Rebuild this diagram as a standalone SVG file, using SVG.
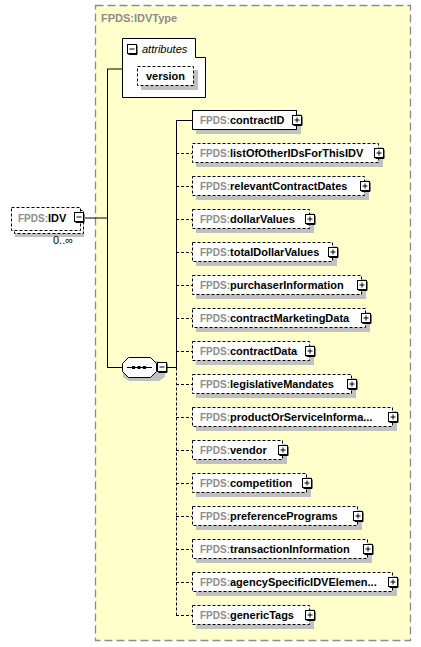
<svg xmlns="http://www.w3.org/2000/svg" width="421" height="647" viewBox="0 0 421 647">
<style>
.bg{fill:#ffffff}
.type{fill:#ffffcc;stroke:#8c8c8c;stroke-width:1.3;stroke-dasharray:8,4}
.tlabel{font-family:"Liberation Sans",Arial,sans-serif;font-size:11px;font-weight:bold;fill:#8c8c8c}
.box{fill:#ffffff;stroke:#000;stroke-width:1}
.dbox{fill:#ffffff;stroke:#000;stroke-width:1;stroke-dasharray:3,2}
.shadow{fill:#c0c0c0}
.t{font-family:"Liberation Sans",Arial,sans-serif;font-size:11px;font-weight:bold;fill:#000}
.pfx{font-size:10px;fill:#8c8c8c}
.nm{font-family:"Liberation Sans",Arial,sans-serif;font-size:11px;font-weight:bold;fill:#000}
.ln{stroke:#000;stroke-width:1;fill:none}
.dln{stroke:#000;stroke-width:1;fill:none;stroke-dasharray:3,2}
.btn{fill:#fff;stroke:#000;stroke-width:1}
.small{font-family:"Liberation Sans",Arial,sans-serif;font-size:11px;fill:#000}
</style>
<defs>
<g id="plus"><rect class="btn" x="0.5" y="0.5" width="9" height="9"/><path class="ln" d="M2.5,5H7.5M5,2.5V7.5"/><path d="M10,1.5V10.5H1.5" stroke="#000" fill="none"/></g>
<g id="minus"><rect class="btn" x="0.5" y="0.5" width="9" height="9"/><path class="ln" d="M2.5,5H7.5"/><path d="M10,1.5V10.5H1.5" stroke="#000" fill="none"/></g>
</defs>
<rect width="421" height="647" class="bg"/>
<g id="IDVType">
<rect class="type" x="95.5" y="5.5" width="315" height="635"/>
<text class="tlabel" x="101" y="22">FPDS:IDVType</text>
</g>
<g id="connectors">
<path class="ln" d="M85,218H107.5M107.5,69V367.5M107,69H122M107,367.5H122"/>
<path class="ln" d="M167,367.5H176.5M176.5,120V367.5M176,120.5H192"/>
<path class="dln" d="M176.5,367.5V615.5"/>
<path class="dln" d="M176,153.5H192M176,186.5H192M176,219.5H192M176,252.5H192M176,285.5H192M176,318.5H192M176,351.5H192M176,384.5H192M176,417.5H192M176,450.5H192M176,483.5H192M176,516.5H192M176,549.5H192M176,582.5H192M176,615.5H192"/>
</g>
<g id="IDV">
<rect class="shadow" x="15" y="213" width="69" height="24"/>
<rect class="dbox" x="14.5" y="210.5" width="69" height="23"/>
<rect class="dbox" x="11.5" y="207.5" width="69" height="23"/>
<text class="t" x="18" y="222"><tspan class="pfx">FPDS:</tspan>IDV</text>
<use href="#minus" x="74" y="212"/>
<text class="small" x="53" y="244">0..∞</text>
</g>
<g id="attributes">
<path class="box" d="M122.5,38.5H195.5V57.5H205.5V97.5H122.5Z"/>
<use href="#minus" x="127" y="44"/>
<text x="142" y="53" font-family="Liberation Sans,Arial,sans-serif" font-size="11" font-style="italic" fill="#000">attributes</text>
</g>
<g id="version">
<rect class="shadow" x="141" y="70" width="57" height="20"/>
<rect class="dbox" x="137.5" y="66.5" width="56" height="19"/>
<text class="nm" x="165.5" y="80" text-anchor="middle">version</text>
</g>
<g id="sequence">
<path class="shadow" d="M129,361H159L165,367V377L159,381H129L123,377V367Z"/>
<path class="box" d="M128.5,357.5H150.5L156.5,363.5V371.5L150.5,377.5H128.5L122.5,371.5V363.5Z"/>
<path class="ln" d="M127,367.5H152"/>
<rect x="132" y="366" width="3" height="3" fill="#000"/>
<rect x="137.5" y="366" width="3" height="3" fill="#000"/>
<rect x="143" y="366" width="3" height="3" fill="#000"/>
<use href="#minus" x="157" y="362"/>
</g>
<g id="contractID">
<rect class="shadow" x="196" y="114" width="105" height="20"/>
<rect class="box" x="192.5" y="110.5" width="104" height="19"/>
<text class="t" x="200" y="124"><tspan class="pfx">FPDS:</tspan>contractID</text>
<use href="#plus" x="292" y="115"/>
</g>
<g id="listOfOtherIDsForThisIDV">
<rect class="shadow" x="196" y="147" width="187" height="20"/>
<rect class="dbox" x="192.5" y="143.5" width="186" height="19"/>
<text class="t" x="200" y="157"><tspan class="pfx">FPDS:</tspan>listOfOtherIDsForThisIDV</text>
<use href="#plus" x="374" y="148"/>
</g>
<g id="relevantContractDates">
<rect class="shadow" x="196" y="180" width="173" height="20"/>
<rect class="dbox" x="192.5" y="176.5" width="172" height="19"/>
<text class="t" x="200" y="190"><tspan class="pfx">FPDS:</tspan>relevantContractDates</text>
<use href="#plus" x="360" y="181"/>
</g>
<g id="dollarValues">
<rect class="shadow" x="196" y="213" width="118" height="20"/>
<rect class="dbox" x="192.5" y="209.5" width="117" height="19"/>
<text class="t" x="200" y="223"><tspan class="pfx">FPDS:</tspan>dollarValues</text>
<use href="#plus" x="305" y="214"/>
</g>
<g id="totalDollarValues">
<rect class="shadow" x="196" y="246" width="141" height="20"/>
<rect class="dbox" x="192.5" y="242.5" width="140" height="19"/>
<text class="t" x="200" y="256"><tspan class="pfx">FPDS:</tspan>totalDollarValues</text>
<use href="#plus" x="328" y="247"/>
</g>
<g id="purchaserInformation">
<rect class="shadow" x="196" y="279" width="170" height="20"/>
<rect class="dbox" x="192.5" y="275.5" width="169" height="19"/>
<text class="t" x="200" y="289"><tspan class="pfx">FPDS:</tspan>purchaserInformation</text>
<use href="#plus" x="357" y="280"/>
</g>
<g id="contractMarketingData">
<rect class="shadow" x="196" y="312" width="174" height="20"/>
<rect class="dbox" x="192.5" y="308.5" width="173" height="19"/>
<text class="t" x="200" y="322"><tspan class="pfx">FPDS:</tspan>contractMarketingData</text>
<use href="#plus" x="361" y="313"/>
</g>
<g id="contractData">
<rect class="shadow" x="196" y="345" width="118" height="20"/>
<rect class="dbox" x="192.5" y="341.5" width="117" height="19"/>
<text class="t" x="200" y="355"><tspan class="pfx">FPDS:</tspan>contractData</text>
<use href="#plus" x="305" y="346"/>
</g>
<g id="legislativeMandates">
<rect class="shadow" x="196" y="378" width="160" height="20"/>
<rect class="dbox" x="192.5" y="374.5" width="159" height="19"/>
<text class="t" x="200" y="388"><tspan class="pfx">FPDS:</tspan>legislativeMandates</text>
<use href="#plus" x="347" y="379"/>
</g>
<g id="productOrServiceInformation">
<rect class="shadow" x="196" y="411" width="201" height="20"/>
<rect class="dbox" x="192.5" y="407.5" width="200" height="19"/>
<text class="t" x="200" y="421"><tspan class="pfx">FPDS:</tspan>productOrServiceInforma...</text>
<use href="#plus" x="388" y="412"/>
</g>
<g id="vendor">
<rect class="shadow" x="196" y="444" width="91" height="20"/>
<rect class="dbox" x="192.5" y="440.5" width="90" height="19"/>
<text class="t" x="200" y="454"><tspan class="pfx">FPDS:</tspan>vendor</text>
<use href="#plus" x="278" y="445"/>
</g>
<g id="competition">
<rect class="shadow" x="196" y="477" width="115" height="20"/>
<rect class="dbox" x="192.5" y="473.5" width="114" height="19"/>
<text class="t" x="200" y="487"><tspan class="pfx">FPDS:</tspan>competition</text>
<use href="#plus" x="302" y="478"/>
</g>
<g id="preferencePrograms">
<rect class="shadow" x="196" y="510" width="166" height="20"/>
<rect class="dbox" x="192.5" y="506.5" width="165" height="19"/>
<text class="t" x="200" y="520"><tspan class="pfx">FPDS:</tspan>preferencePrograms</text>
<use href="#plus" x="353" y="511"/>
</g>
<g id="transactionInformation">
<rect class="shadow" x="196" y="543" width="176" height="20"/>
<rect class="dbox" x="192.5" y="539.5" width="175" height="19"/>
<text class="t" x="200" y="553"><tspan class="pfx">FPDS:</tspan>transactionInformation</text>
<use href="#plus" x="363" y="544"/>
</g>
<g id="agencySpecificIDVElements">
<rect class="shadow" x="196" y="576" width="201" height="20"/>
<rect class="dbox" x="192.5" y="572.5" width="200" height="19"/>
<text class="t" x="200" y="586"><tspan class="pfx">FPDS:</tspan>agencySpecificIDVElemen...</text>
<use href="#plus" x="388" y="577"/>
</g>
<g id="genericTags">
<rect class="shadow" x="196" y="609" width="118" height="20"/>
<rect class="dbox" x="192.5" y="605.5" width="117" height="19"/>
<text class="t" x="200" y="619"><tspan class="pfx">FPDS:</tspan>genericTags</text>
<use href="#plus" x="305" y="610"/>
</g>
</svg>
